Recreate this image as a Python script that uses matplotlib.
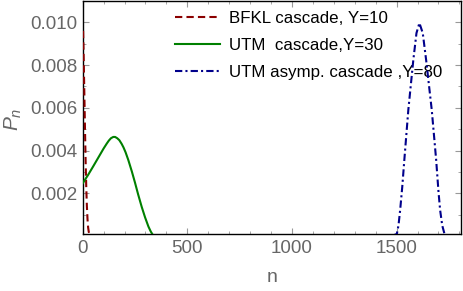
import numpy as np
import matplotlib
matplotlib.use("Agg")
import matplotlib.pyplot as plt
from matplotlib.ticker import MultipleLocator

plt.rcParams['font.family'] = ['Liberation Sans', 'DejaVu Sans']
plt.rcParams['mathtext.fontset'] = 'custom'
plt.rcParams['mathtext.it'] = 'Liberation Sans:italic'
plt.rcParams['mathtext.rm'] = 'Liberation Sans'

# BFKL cascade, Y=10
n_bfkl = [2, 5, 8, 11, 14, 17, 20, 23, 26, 29, 32]
p_bfkl = [0.0096, 0.0082, 0.0066, 0.0050, 0.0035, 0.0023, 0.0014, 0.0008, 0.0004, 0.0002, 0.0001]

# UTM cascade, Y=30
n_utm = [0, 25, 50, 75, 100, 115, 125, 135, 146, 155, 165, 175, 186, 195, 205, 218, 235, 250,
         265, 282, 298, 314, 325, 335]
p_utm = [0.00247, 0.00285, 0.00326, 0.00368, 0.00410, 0.00433, 0.00447, 0.00458, 0.00464, 0.00464,
         0.00458, 0.00449, 0.00432, 0.00415, 0.00392, 0.00356, 0.00302, 0.00250,
         0.00195, 0.00137, 0.00088, 0.00045, 0.00022, 0.00006]

# UTM asymptotic cascade, Y=80
n_asym = [1480, 1501, 1509, 1517, 1527, 1537, 1556, 1580, 1595, 1609, 1625, 1641,
          1668, 1689, 1700, 1708, 1718, 1729, 1745]
p_asym = [0.00002, 0.0001, 0.0005, 0.00122, 0.0023, 0.00357, 0.0059, 0.00825, 0.0095, 0.00997,
          0.0095, 0.00825, 0.0059, 0.00357, 0.0021, 0.00122, 0.0005, 0.0001, 0.00002]

labels = ["BFKL cascade, Y=10", "UTM  cascade,Y=30", "UTM asymp. cascade ,Y=80"]

xticks = [0, 500, 1000, 1500]
yticks = [0.002, 0.004, 0.006, 0.008, 0.010]
ytick_labels = ["0.002", "0.004", "0.006", "0.008", "0.010"]

fig = plt.figure(figsize=(4.63, 2.91), dpi=100)
ax = fig.add_axes([0.1786, 0.1959, 0.8181, 0.8007])

l1, = ax.plot(n_bfkl, p_bfkl, color='#8b0000', lw=1.5, ls=(0, (3.5, 2.0)), zorder=3)
l2, = ax.plot(n_utm, p_utm, color='#008000', lw=1.5, zorder=3)
l3, = ax.plot(n_asym, p_asym, color='#00008b', lw=1.5, ls=(0, (3.5, 1.5, 1.0, 1.5)), zorder=3)

ax.set_xlim(0, 1810)
ax.set_ylim(0.0001, 0.011)

ax.set_xticks(xticks)
ax.set_yticks(yticks)
ax.set_yticklabels(ytick_labels)
ax.xaxis.set_minor_locator(MultipleLocator(100))
ax.yaxis.set_minor_locator(MultipleLocator(0.001))
ax.tick_params(which='both', direction='in', top=True, right=True, color='#999999',
               labelcolor='#666666', labelsize=13.5)
ax.tick_params(which='major', length=4, width=0.8, pad=4)
ax.tick_params(which='minor', length=2.5, width=0.6)
for s in ax.spines.values():
    s.set_linewidth(1.0)

fig.text(272 / 463, 1 - 278 / 291, "n", fontsize=14, color='#666666', ha='center', va='center')
fig.text(13 / 463, 1 - 119 / 291, "$P_n$", fontsize=15, color='#666666', ha='center', va='center',
         rotation=90)

leg = ax.legend([l1, l2, l3], labels, loc='upper left', frameon=False, fontsize=12.2,
                bbox_to_anchor=(175 / 463, 1 - 11 / 291), bbox_transform=fig.transFigure,
                borderpad=0, borderaxespad=0, handlelength=2.65, handletextpad=0.55,
                labelspacing=0.70)
leg.set_zorder(2)

fig.savefig("out.png", dpi=100)
